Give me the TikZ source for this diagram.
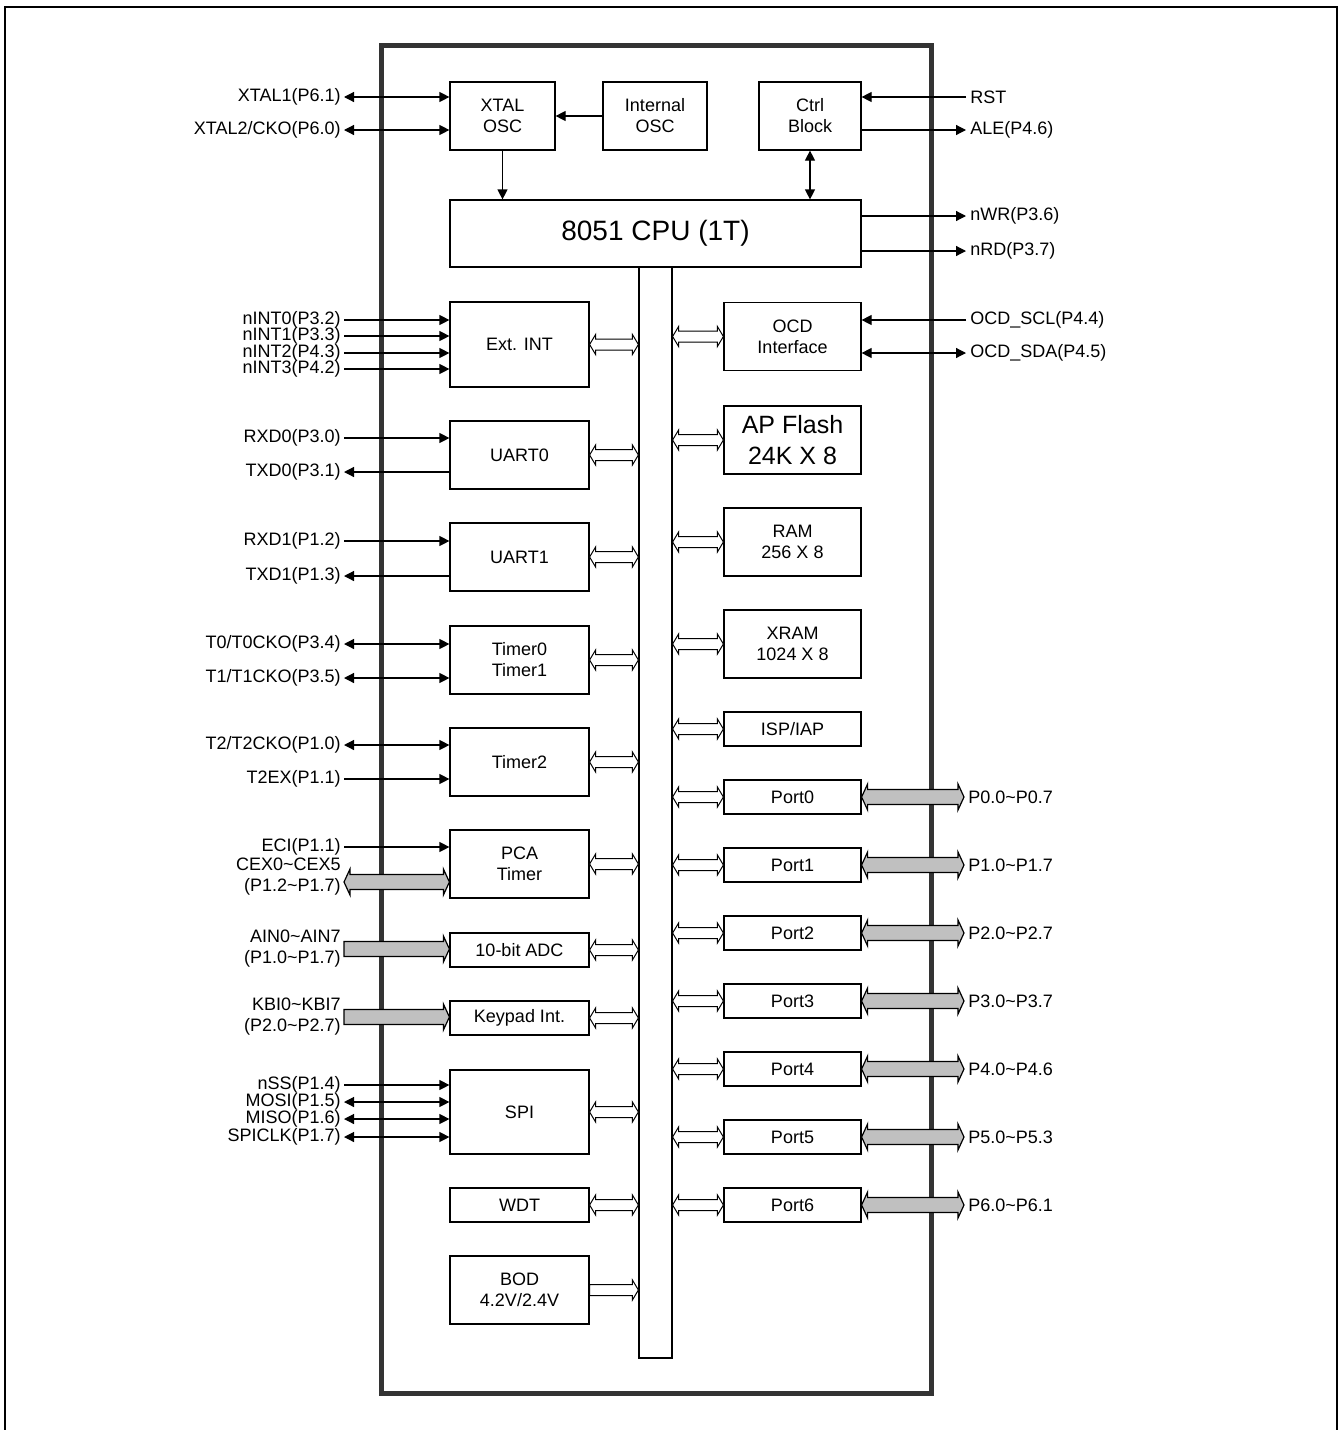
\documentclass[tikz,border=0pt]{standalone}
\usepackage{fontspec}
\setmainfont{Liberation Sans}
\usetikzlibrary{arrows.meta, positioning, calc}
\definecolor{cChip}{RGB}{51,51,51}
\definecolor{cPinBus}{RGB}{192,192,192}
\newcommand{\pinfont}{\fontsize{9}{10.5}\selectfont}
\newcommand{\memfont}{\fontsize{12.5}{15.5}\selectfont}
\newcommand{\cpufont}{\fontsize{14}{16}\selectfont}
% hollow block arrows: #1 half body, #2 half head, #3 head length
\tikzset{
  dhead/.style n args={3}{to path={
      let \p1=(\tikztostart), \p2=(\tikztotarget), \n1={sign(\x2-\x1)} in
      (\p1) -- (\x1+\n1*#3,\y1+#2) -- (\x1+\n1*#3,\y1+#1) -- (\x2-\n1*#3,\y2+#1)
      -- (\x2-\n1*#3,\y2+#2) -- (\p2) -- (\x2-\n1*#3,\y2-#2) -- (\x2-\n1*#3,\y2-#1)
      -- (\x1+\n1*#3,\y1-#1) -- (\x1+\n1*#3,\y1-#2) -- cycle}},
  shead/.style n args={3}{to path={
      let \p1=(\tikztostart), \p2=(\tikztotarget), \n1={sign(\x2-\x1)} in
      (\x1,\y1+#1) -- (\x2-\n1*#3,\y2+#1) -- (\x2-\n1*#3,\y2+#2) -- (\p2)
      -- (\x2-\n1*#3,\y2-#2) -- (\x2-\n1*#3,\y2-#1) -- (\x1,\y1-#1) -- cycle}}
}

\begin{document}
\begin{tikzpicture}[x=0.5pt, y=-0.5pt,
      blk/.style={draw, line width=0.6pt, inner sep=0pt, align=center, font=\pinfont},
      lblk/.style={blk, minimum width=69.5pt, minimum height=34pt},
      rblk/.style={blk, minimum width=68.5pt, minimum height=34pt},
      pl/.style={font=\pinfont, inner sep=1.5pt, anchor=east, align=right},
      pr/.style={font=\pinfont, inner sep=2pt, anchor=west, align=left},
      sig/.style={line width=0.6pt, -{Triangle[length=5pt,width=5pt]}},
      sigb/.style={line width=0.6pt, {Triangle[length=5pt,width=5pt]}-{Triangle[length=5pt,width=5pt]}},
      dbus/.style={draw, fill=white, line width=0.5pt, dhead={2.75pt}{5pt}{3pt}},
      dbus1/.style={draw, fill=white, line width=0.5pt, shead={2.75pt}{5pt}{3pt}},
      pbus/.style={draw, fill=cPinBus, line width=0.6pt, dhead={3.75pt}{6.5pt}{3pt}},
      pbus1/.style={draw, fill=cPinBus, line width=0.6pt, shead={3.75pt}{6.5pt}{3pt}}
    ]
    \useasboundingbox (0,0) rectangle (1344,1430);
    \draw[line width=1pt] (5,1430) -- (5,7) -- (1337,7) -- (1337,1430);

    % chip outline
    \node[draw=cChip, line width=2.5pt, minimum width=275pt, minimum height=674pt, inner sep=0pt] (chip) at (656,719) {};

    % clock, control and core
    \node[blk, minimum width=52.5pt, minimum height=34pt] (xosc) at (502.5,116) {XTAL\\OSC};
    \node[blk, minimum width=52pt, minimum height=34pt] (iosc) at (655,116) {Internal\\OSC};
    \node[blk, minimum width=51pt, minimum height=34pt] (ctrl) at (810,116) {Ctrl\\Block};
    \node[blk, minimum width=205.5pt, minimum height=33.5pt, font=\cpufont] (cpu) at (655.5,233.5) {8051 CPU (1T)};
    \node[draw, line width=0.6pt, minimum width=16.5pt, minimum height=545.5pt, inner sep=0pt] (bus) at (655.5,812.5) {};

    \draw[sig] (iosc.west) -- (xosc.east |- iosc.west);
    \draw[sig] (xosc.south) -- (xosc.south |- cpu.north);
    \draw[sigb] (ctrl.south) -- (ctrl.south |- cpu.north);

    \node[pl] (xtal1) at (344,97) {XTAL1(P6.1)};
    \node[pl] (xtal2) at (344,130) {XTAL2/CKO(P6.0)};
    \draw[sigb] (xtal1.east) -- (xtal1.east -| xosc.west);
    \draw[sigb] (xtal2.east) -- (xtal2.east -| xosc.west);

    \node[pr] (rst) at (966,97) {RST};
    \node[pr] (ale) at (966,130) {ALE(P4.6)};
    \node[pr] (nwr) at (966,216) {nWR(P3.6)};
    \node[pr] (nrd) at (966,251) {nRD(P3.7)};
    \draw[sig] (rst.west) -- (rst.west -| ctrl.east);
    \draw[sig] (ale.west -| ctrl.east) -- (ale.west);
    \draw[sig] (nwr.west -| cpu.east) -- (nwr.west);
    \draw[sig] (nrd.west -| cpu.east) -- (nrd.west);

    % left side peripherals
    \node[lblk, minimum height=42.5pt] (extint) at (519.5,344.5) {Ext. INT};
    \node[lblk] (uart0) at (519.5,455) {UART0};
    \node[lblk] (uart1) at (519.5,557) {UART1};
    \node[lblk] (tmr01) at (519.5,660) {Timer0\\Timer1};
    \node[lblk] (tmr2) at (519.5,762) {Timer2};
    \node[lblk] (pca) at (519.5,864) {PCA\\Timer};
    \node[lblk, minimum height=17pt] (adc) at (519.5,950) {10-bit ADC};
    \node[lblk, minimum height=17pt] (kbd) at (519.5,1018) {Keypad Int.};
    \node[lblk, minimum height=42pt] (spi) at (519.5,1112) {SPI};
    \node[lblk, minimum height=17pt] (wdt) at (519.5,1205) {WDT};
    \node[lblk] (bod) at (519.5,1290) {BOD\\4.2V/2.4V};

    \draw[dbus] (extint.east) to (extint.east -| bus.west);
    \draw[dbus] (uart0.east) to (uart0.east -| bus.west);
    \draw[dbus] (uart1.east) to (uart1.east -| bus.west);
    \draw[dbus] (tmr01.east) to (tmr01.east -| bus.west);
    \draw[dbus] (tmr2.east) to (tmr2.east -| bus.west);
    \draw[dbus] (pca.east) to (pca.east -| bus.west);
    \draw[dbus] (adc.east) to (adc.east -| bus.west);
    \draw[dbus] (kbd.east) to (kbd.east -| bus.west);
    \draw[dbus] (spi.east) to (spi.east -| bus.west);
    \draw[dbus] (wdt.east) to (wdt.east -| bus.west);
    \draw[dbus1] (bod.east) to (bod.east -| bus.west);

    % left side pins
    \node[pl] (int0) at (344,320) {nINT0(P3.2)};
    \node[pl] (int1) at (344,336) {nINT1(P3.3)};
    \node[pl] (int2) at (344,353) {nINT2(P4.3)};
    \node[pl] (int3) at (344,369) {nINT3(P4.2)};
    \draw[sig] (int0.east) -- (int0.east -| extint.west);
    \draw[sig] (int1.east) -- (int1.east -| extint.west);
    \draw[sig] (int2.east) -- (int2.east -| extint.west);
    \draw[sig] (int3.east) -- (int3.east -| extint.west);

    \node[pl] (rxd0) at (344,438) {RXD0(P3.0)};
    \node[pl] (txd0) at (344,472) {TXD0(P3.1)};
    \draw[sig] (rxd0.east) -- (rxd0.east -| uart0.west);
    \draw[sig] (txd0.east -| uart0.west) -- (txd0.east);

    \node[pl] (rxd1) at (344,541) {RXD1(P1.2)};
    \node[pl] (txd1) at (344,576) {TXD1(P1.3)};
    \draw[sig] (rxd1.east) -- (rxd1.east -| uart1.west);
    \draw[sig] (txd1.east -| uart1.west) -- (txd1.east);

    \node[pl] (t0) at (344,644) {T0/T0CKO(P3.4)};
    \node[pl] (t1) at (344,678) {T1/T1CKO(P3.5)};
    \draw[sigb] (t0.east) -- (t0.east -| tmr01.west);
    \draw[sigb] (t1.east) -- (t1.east -| tmr01.west);

    \node[pl] (t2) at (344,745) {T2/T2CKO(P1.0)};
    \node[pl] (t2ex) at (344,779) {T2EX(P1.1)};
    \draw[sigb] (t2.east) -- (t2.east -| tmr2.west);
    \draw[sig] (t2ex.east) -- (t2ex.east -| tmr2.west);

    \node[pl] (eci) at (344,847) {ECI(P1.1)};
    \node[pl] (cex) at (344,877) {CEX0\textasciitilde CEX5\\(P1.2\textasciitilde P1.7)};
    \draw[sig] (eci.east) -- (eci.east -| pca.west);
    \draw[pbus] ([yshift=-2.5pt]cex.east) to ([yshift=-2.5pt]cex.east -| pca.west);

    \node[pl] (ain) at (344,949) {AIN0\textasciitilde AIN7\\(P1.0\textasciitilde P1.7)};
    \draw[pbus1] (ain.east) to (ain.east -| adc.west);
    \node[pl] (kbi) at (344,1017) {KBI0\textasciitilde KBI7\\(P2.0\textasciitilde P2.7)};
    \draw[pbus1] (kbi.east) to (kbi.east -| kbd.west);

    \node[pl] (nss) at (344,1085) {nSS(P1.4)};
    \node[pl] (mosi) at (344,1102) {MOSI(P1.5)};
    \node[pl] (miso) at (344,1119) {MISO(P1.6)};
    \node[pl] (sck) at (344,1137) {SPICLK(P1.7)};
    \draw[sig] (nss.east) -- (nss.east -| spi.west);
    \draw[sigb] (mosi.east) -- (mosi.east -| spi.west);
    \draw[sigb] (miso.east) -- (miso.east -| spi.west);
    \draw[sigb] (sck.east) -- (sck.east -| spi.west);

    % right side: debug and memories
    \node[rblk] (ocd) at (792.5,336.5) {OCD\\Interface};
    \node[rblk, font=\memfont] (flash) at (792.5,440) {AP Flash\\24K X 8};
    \node[rblk] (ram) at (792.5,542) {RAM\\256 X 8};
    \node[rblk] (xram) at (792.5,644) {XRAM\\1024 X 8};
    \node[rblk, minimum height=17pt] (isp) at (792.5,729) {ISP/IAP};

    \draw[dbus] (ocd.west -| bus.east) to (ocd.west);
    \draw[dbus] (flash.west -| bus.east) to (flash.west);
    \draw[dbus] (ram.west -| bus.east) to (ram.west);
    \draw[dbus] (xram.west -| bus.east) to (xram.west);
    \draw[dbus] (isp.west -| bus.east) to (isp.west);

    \node[pr] (scl) at (966,320) {OCD\_SCL(P4.4)};
    \node[pr] (sda) at (966,353) {OCD\_SDA(P4.5)};
    \draw[sig] (scl.west) -- (scl.west -| ocd.east);
    \draw[sigb] (sda.west -| ocd.east) -- (sda.west);

    % ports
    \node[rblk, minimum height=17pt] (port0) at (792.5,797) {Port0};
    \node[rblk, minimum height=17pt] (port1) at (792.5,865) {Port1};
    \node[rblk, minimum height=17pt] (port2) at (792.5,933) {Port2};
    \node[rblk, minimum height=17pt] (port3) at (792.5,1001) {Port3};
    \node[rblk, minimum height=17pt] (port4) at (792.5,1069) {Port4};
    \node[rblk, minimum height=17pt] (port5) at (792.5,1137) {Port5};
    \node[rblk, minimum height=17pt] (port6) at (792.5,1205) {Port6};

    \node[pr] (p0) at (964,797) {P0.0\textasciitilde P0.7};
    \node[pr] (p1) at (964,865) {P1.0\textasciitilde P1.7};
    \node[pr] (p2) at (964,933) {P2.0\textasciitilde P2.7};
    \node[pr] (p3) at (964,1001) {P3.0\textasciitilde P3.7};
    \node[pr] (p4) at (964,1069) {P4.0\textasciitilde P4.6};
    \node[pr] (p5) at (964,1137) {P5.0\textasciitilde P5.3};
    \node[pr] (p6) at (964,1205) {P6.0\textasciitilde P6.1};

    \draw[dbus] (port0.west -| bus.east) to (port0.west);
    \draw[dbus] (port1.west -| bus.east) to (port1.west);
    \draw[dbus] (port2.west -| bus.east) to (port2.west);
    \draw[dbus] (port3.west -| bus.east) to (port3.west);
    \draw[dbus] (port4.west -| bus.east) to (port4.west);
    \draw[dbus] (port5.west -| bus.east) to (port5.west);
    \draw[dbus] (port6.west -| bus.east) to (port6.west);

    \draw[pbus] (port0.east) to (p0.west);
    \draw[pbus] (port1.east) to (p1.west);
    \draw[pbus] (port2.east) to (p2.west);
    \draw[pbus] (port3.east) to (p3.west);
    \draw[pbus] (port4.east) to (p4.west);
    \draw[pbus] (port5.east) to (p5.west);
    \draw[pbus] (port6.east) to (p6.west);
  \end{tikzpicture}
\end{document}
